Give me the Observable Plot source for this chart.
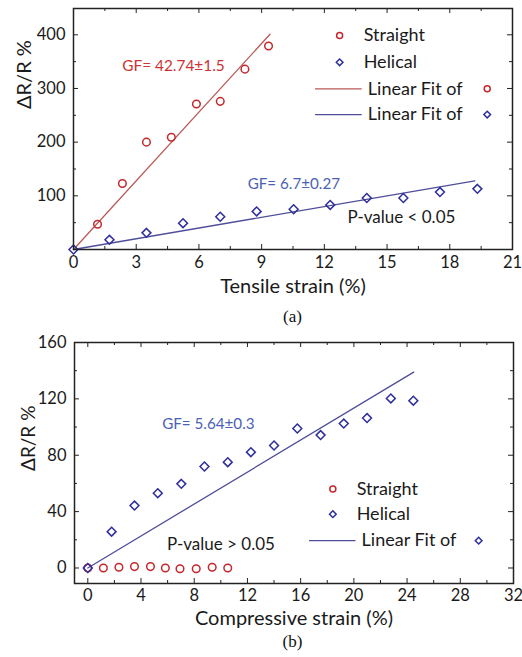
<!DOCTYPE html>
<html><head><meta charset="utf-8">
<script src="https://cdn.jsdelivr.net/npm/d3@7"></script>
<script src="https://cdn.jsdelivr.net/npm/@observablehq/plot@0.6"></script>
<style>
body{margin:0;background:#fff;font-family:Lato,sans-serif;}
.cap{font-family:"Liberation Serif",serif;font-size:17px;color:#111;text-align:center;padding-left:73px;padding-right:10px;box-sizing:border-box;width:522px;}
svg{display:block;}
</style></head><body>
<div id="a"></div><div class="cap" style="height:24px;line-height:24px">(a)</div>
<div id="b"></div><div class="cap" style="height:20px;line-height:20px">(b)</div>
<script>
// ---- Data: (a) tensile ----
const tensileStraightX = [1.15, 2.34, 3.49, 4.68, 5.88, 7.02, 8.2, 9.33];
const tensileStraightY = [47, 123, 200, 209, 271, 276, 336, 379];
const tensileHelicalX = [0, 1.72, 3.49, 5.24, 7.02, 8.76, 10.53, 12.28, 14.03, 15.78, 17.53, 19.32];
const tensileHelicalY = [0, 18, 31, 49, 61, 71, 75, 83, 96, 96, 107, 113];
const tensileStraightFitX = [0, 9.4];
const tensileStraightFitY = [0, 401];
const tensileHelicalFitX = [0, 19.2];
const tensileHelicalFitY = [0, 128];
const tensileXTicks = [0, 3, 6, 9, 12, 15, 18, 21];
const tensileXMinor = [1.5, 4.5, 7.5, 10.5, 13.5, 16.5, 19.5];
const tensileYTicks = [100, 200, 300, 400];
const tensileYMinor = [50, 150, 250, 350];

// ---- Data: (b) compressive ----
const compStraightX = [0, 1.17, 2.34, 3.51, 4.71, 5.83, 6.93, 8.15, 9.35, 10.52];
const compStraightY = [0, 0, 0.5, 1, 1, 0, -0.5, -0.5, 0.5, 0];
const compHelicalX = [0, 1.79, 3.51, 5.26, 7.03, 8.77, 10.52, 12.26, 14.0, 15.75, 17.5, 19.24, 20.99, 22.78, 24.47];
const compHelicalY = [0, 25.8, 44.3, 53.1, 59.7, 72.0, 75.1, 82.2, 86.9, 99.0, 94.3, 102.5, 106.4, 120.3, 118.7];
const compHelicalFitX = [0, 24.5];
const compHelicalFitY = [0, 139];
const compXTicks = [0, 4, 8, 12, 16, 20, 24, 28, 32];
const compXMinor = [2, 6, 10, 14, 18, 22, 26, 30];
const compYTicks = [0, 40, 80, 120, 160];
const compYMinor = [20, 60, 100, 140];

const RED = "#c4282c", RED_LINE = "#b85a55", BLUE = "#2e2e9c", BLUE_LINE = "#4e4e9a";
const RED_TXT = "#cc3333", BLUE_TXT = "#4a62b4", INK = "#1a1a1a";

const idx = a => a.map((_, i) => i);

function boxTicks(xMaj, xMin, yMaj, yMin, plotW, plotH) {
  const c = "#222", M = 5, m = 3;
  return [
    Plot.tickX(xMaj, {x: d => d, insetTop: plotH - M, stroke: c}),
    Plot.tickX(xMaj, {x: d => d, insetBottom: plotH - M, stroke: c}),
    Plot.tickX(xMin, {x: d => d, insetTop: plotH - m, stroke: c}),
    Plot.tickX(xMin, {x: d => d, insetBottom: plotH - m, stroke: c}),
    Plot.tickY(yMaj, {y: d => d, insetRight: plotW - M, stroke: c}),
    Plot.tickY(yMaj, {y: d => d, insetLeft: plotW - M, stroke: c}),
    Plot.tickY(yMin, {y: d => d, insetRight: plotW - m, stroke: c}),
    Plot.tickY(yMin, {y: d => d, insetLeft: plotW - m, stroke: c})
  ];
}

// ---- Chart (a) ----
{
  const W = 522, H = 305, mt = 8, mb = 56, ml = 73, mr = 10;
  const pw = W - ml - mr, ph = H - mt - mb;
  const chart = Plot.plot({
    width: W, height: H, marginTop: mt, marginBottom: mb, marginLeft: ml, marginRight: mr,
    style: {fontFamily: "Lato, sans-serif", fontSize: "16.5px", color: INK, background: "white"},
    x: {domain: [0, 21]},
    y: {domain: [0, 449]},
    marks: [
      Plot.line(idx(tensileStraightFitX), {x: i => tensileStraightFitX[i], y: i => tensileStraightFitY[i], stroke: RED_LINE, strokeWidth: 1.3}),
      Plot.line(idx(tensileHelicalFitX), {x: i => tensileHelicalFitX[i], y: i => tensileHelicalFitY[i], stroke: BLUE_LINE, strokeWidth: 1.3}),
      Plot.dot(idx(tensileHelicalX), {x: i => tensileHelicalX[i], y: i => tensileHelicalY[i], symbol: "diamond2", r: 4, stroke: BLUE, strokeWidth: 1.5}),
      Plot.dot(idx(tensileStraightX), {x: i => tensileStraightX[i], y: i => tensileStraightY[i], symbol: "circle", r: 3.8, stroke: RED, strokeWidth: 1.5, fill: "none"}),
      ...boxTicks(tensileXTicks, tensileXMinor, tensileYTicks, tensileYMinor, pw, ph),
      Plot.frame({stroke: "#222", strokeWidth: 1.5}),
      Plot.axisX(tensileXTicks, {tickSize: 0, tickPadding: 7, label: null, tickFormat: d => d}),
      Plot.axisY(tensileYTicks, {tickSize: 0, tickPadding: 8, label: null, tickFormat: d => d}),
      Plot.text(["Tensile strain (%)"], {frameAnchor: "bottom", dy: 43, fontSize: 20, fill: INK}),
      Plot.text(["ΔR/R %"], {frameAnchor: "left", dx: -49, dy: -20, rotate: -90, fontSize: 20, fill: INK}),
      Plot.text(["GF= 42.74±1.5"], {x: 2.33, y: 342, textAnchor: "start", fontSize: 15.4, fill: RED_TXT}),
      Plot.text(["GF= 6.7±0.27"], {x: 8.33, y: 121, textAnchor: "start", fontSize: 15.2, fill: BLUE_TXT}),
      Plot.text(["P-value < 0.05"], {x: 13.11, y: 60, textAnchor: "start", fontSize: 17, fill: INK}),
      // legend
      Plot.dot([0], {x: 12.73, y: 398.5, symbol: "circle", r: 3, stroke: RED, strokeWidth: 1.5, fill: "none"}),
      Plot.text(["Straight"], {x: 13.88, y: 398.5, textAnchor: "start", fontSize: 18, fill: INK}),
      Plot.dot([0], {x: 12.73, y: 348.8, symbol: "diamond2", r: 3, stroke: BLUE, strokeWidth: 1.5}),
      Plot.text(["Helical"], {x: 13.88, y: 348.8, textAnchor: "start", fontSize: 18, fill: INK}),
      Plot.ruleY([299.3], {x1: 11.58, x2: 13.81, stroke: RED_LINE, strokeWidth: 1.3}),
      Plot.text(["Linear Fit of"], {x: 14.08, y: 299.3, textAnchor: "start", fontSize: 18, fill: INK}),
      Plot.dot([0], {x: 19.79, y: 299.3, symbol: "circle", r: 3, stroke: RED, strokeWidth: 1.5, fill: "none"}),
      Plot.ruleY([251.4], {x1: 11.58, x2: 13.81, stroke: BLUE_LINE, strokeWidth: 1.3}),
      Plot.text(["Linear Fit of"], {x: 14.08, y: 251.4, textAnchor: "start", fontSize: 18, fill: INK}),
      Plot.dot([0], {x: 19.79, y: 251.4, symbol: "diamond2", r: 3, stroke: BLUE, strokeWidth: 1.5})
    ]
  });
  document.getElementById("a").append(chart);
}

// ---- Chart (b) ----
{
  const W = 522, H = 303, mt = 13, mb = 49, ml = 74, mr = 9;
  const pw = W - ml - mr, ph = H - mt - mb;
  const chart = Plot.plot({
    width: W, height: H, marginTop: mt, marginBottom: mb, marginLeft: ml, marginRight: mr,
    style: {fontFamily: "Lato, sans-serif", fontSize: "16.5px", color: INK, background: "white"},
    x: {domain: [-1, 32]},
    y: {domain: [-11, 160]},
    marks: [
      Plot.line(idx(compHelicalFitX), {x: i => compHelicalFitX[i], y: i => compHelicalFitY[i], stroke: BLUE_LINE, strokeWidth: 1.3}),
      Plot.dot(idx(compStraightX), {x: i => compStraightX[i], y: i => compStraightY[i], symbol: "circle", r: 3.8, stroke: RED, strokeWidth: 1.5, fill: "none"}),
      Plot.dot(idx(compHelicalX), {x: i => compHelicalX[i], y: i => compHelicalY[i], symbol: "diamond2", r: 4, stroke: BLUE, strokeWidth: 1.5}),
      ...boxTicks(compXTicks, compXMinor, compYTicks, compYMinor, pw, ph),
      Plot.frame({stroke: "#222", strokeWidth: 1.5}),
      Plot.axisX(compXTicks, {tickSize: 0, tickPadding: 6, label: null, tickFormat: d => d}),
      Plot.axisY(compYTicks, {tickSize: 0, tickPadding: 8, label: null, tickFormat: d => d}),
      Plot.text(["Compressive strain (%)"], {frameAnchor: "bottom", dy: 41, fontSize: 20, fill: INK}),
      Plot.text(["ΔR/R %"], {frameAnchor: "left", dx: -46, dy: 8, rotate: -90, fontSize: 19, fill: INK}),
      Plot.text(["GF= 5.64±0.3"], {x: 5.59, y: 102.3, textAnchor: "start", fontSize: 15.2, fill: BLUE_TXT}),
      Plot.text(["P-value > 0.05"], {x: 5.96, y: 16.8, textAnchor: "start", fontSize: 17, fill: INK}),
      // legend
      Plot.dot([0], {x: 18.42, y: 56.1, symbol: "circle", r: 3, stroke: RED, strokeWidth: 1.5, fill: "none"}),
      Plot.text(["Straight"], {x: 20.21, y: 56.1, textAnchor: "start", fontSize: 18, fill: INK}),
      Plot.dot([0], {x: 18.42, y: 38.2, symbol: "diamond2", r: 3, stroke: BLUE, strokeWidth: 1.5}),
      Plot.text(["Helical"], {x: 20.21, y: 38.2, textAnchor: "start", fontSize: 18, fill: INK}),
      Plot.ruleY([19.4], {x1: 16.67, x2: 20.16, stroke: BLUE_LINE, strokeWidth: 1.3}),
      Plot.text(["Linear Fit of"], {x: 20.58, y: 19.4, textAnchor: "start", fontSize: 18, fill: INK}),
      Plot.dot([0], {x: 29.38, y: 19.4, symbol: "diamond2", r: 3, stroke: BLUE, strokeWidth: 1.5})
    ]
  });
  document.getElementById("b").append(chart);
}
</script>
</body></html>
